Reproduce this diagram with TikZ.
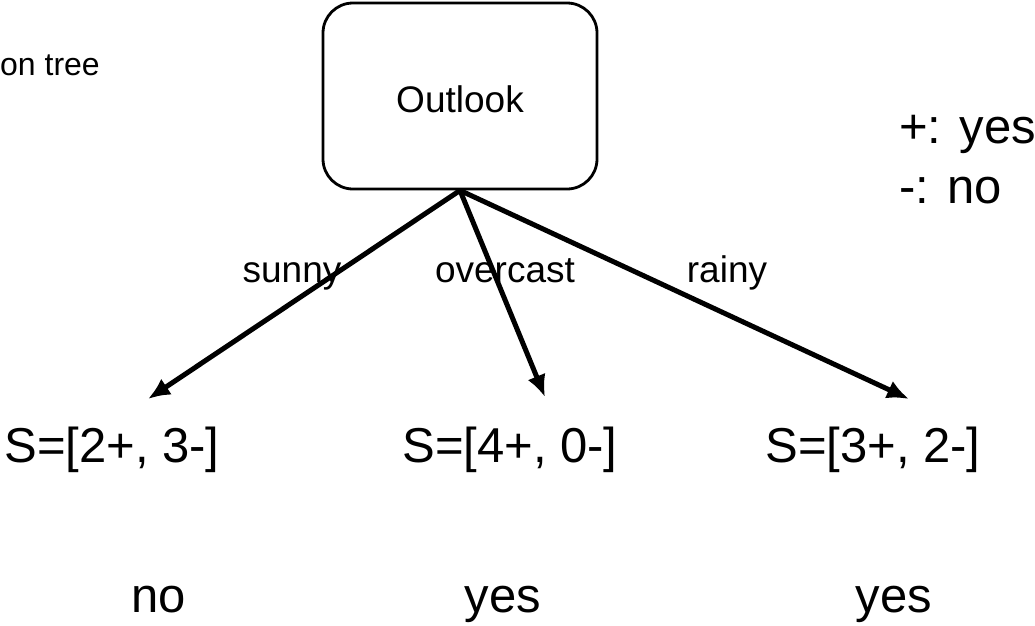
\documentclass[tikz,border=0pt]{standalone}
\usepackage{fontspec}
\setmainfont{Liberation Sans}
\usetikzlibrary{arrows.meta}
\tikzset{
  txt/.style={inner sep=0pt, anchor=base},
  big/.style={txt, font=\fontsize{49}{52}\selectfont},
  mid/.style={txt, font=\fontsize{37}{40}\selectfont},
  small/.style={txt, font=\fontsize{32}{35}\selectfont},
  attr/.style={draw, line width=2.8pt, rounded corners=30pt, minimum width=274pt, minimum height=186pt, inner sep=0pt},
  branch/.style={line width=5pt, -{Latex[length=22pt, width=19pt]}}
}
\begin{document}
\begin{tikzpicture}[x=1pt, y=-1pt]
\useasboundingbox (0,0) rectangle (1035,625);

% title fragment at the left edge
\node[small, anchor=base west] (title) at (0,75) {on tree};

% root attribute
\node[attr] (outlook) at (460,96) {};
\node[mid] (outlooktxt) at (460,112) {Outlook};

% legend
\node[big, anchor=base west] (plus) at (899,143) {+: yes};
\node[big, anchor=base west] (minus) at (899,203) {-: no};

% subsets
\node[big] (s1) at (112,462) {S=[2+, 3-]};
\node[big] (s2) at (510,462) {S=[4+, 0-]};
\node[big] (s3) at (873,462) {S=[3+, 2-]};

% leaf decisions
\node[big] (d1) at (159,612) {no};
\node[big] (d2) at (503,612) {yes};
\node[big] (d3) at (894,612) {yes};

% arrow tips above the subsets
\coordinate (t1) at (148,399);
\coordinate (t2) at (545,397);
\coordinate (t3) at (909,399);

% branches
\draw[branch] (outlook.south) -- (t1);
\draw[branch] (outlook.south) -- (t2);
\draw[branch] (outlook.south) -- (t3);

% branch labels
\node[mid] (l1) at (292,282) {sunny};
\node[mid] (l2) at (505,282) {overcast};
\node[mid] (l3) at (727,282) {rainy};
\end{tikzpicture}
\end{document}
